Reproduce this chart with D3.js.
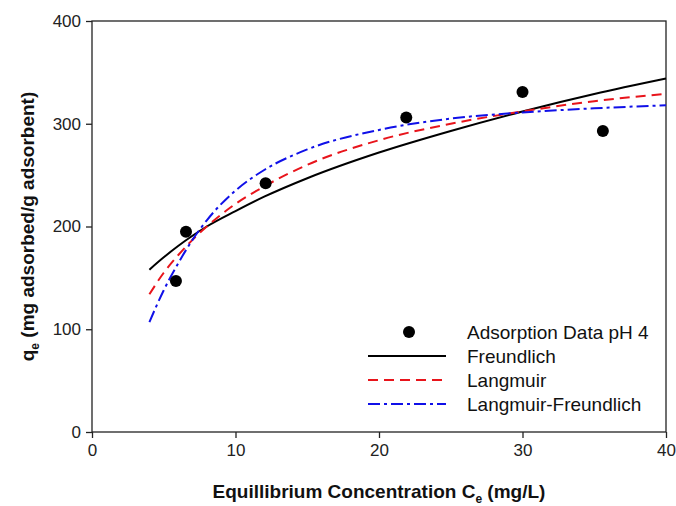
<!DOCTYPE html>
<html>
<head>
<meta charset="utf-8">
<script src="https://cdn.jsdelivr.net/npm/d3@7"></script>
<style>
  body { margin: 0; background: #fff; }
  svg { font-family: Arial, 'Liberation Sans', sans-serif; }
</style>
</head>
<body>
<svg id="chart" width="676" height="506"></svg>
<script>
// measured adsorption data (Ce mg/L, qe mg/g)
const dataCe = [5.85, 6.55, 12.1, 21.9, 30.0, 35.6];
const dataQe = [147, 195, 242, 306, 331, 293];

// fitted curves
const curveCe = [4, 5, 6, 7, 8, 10, 12, 15, 20, 25, 30, 35, 40];
const freundlich = [158, 170, 181, 191, 200, 215, 229, 247, 272, 293, 312, 329, 344];
const langmuir = [134, 155, 172, 187, 200, 222, 239, 260, 284, 300, 312, 322, 329];
const langmuirFreundlich = [107, 138, 164, 187, 206, 235, 255, 275, 294, 305, 311, 315, 318];

const xTicks = [0, 10, 20, 30, 40];
const yTicks = [0, 100, 200, 300, 400];

const legendLabels = ['Adsorption Data pH 4', 'Freundlich', 'Langmuir', 'Langmuir-Freundlich'];

document.addEventListener('DOMContentLoaded', () => {
  const svg = d3.select('#chart');
  const margin = { left: 92, right: 10, top: 21, bottom: 74 };
  const width = 676 - margin.left - margin.right;
  const height = 506 - margin.top - margin.bottom;

  const x = d3.scaleLinear().domain([0, 40]).range([0, width]);
  const y = d3.scaleLinear().domain([0, 400]).range([height, 0]);

  const g = svg.append('g')
    .attr('transform', `translate(${margin.left},${margin.top})`);

  // frame
  g.append('rect')
    .attr('width', width)
    .attr('height', height)
    .attr('fill', 'none')
    .attr('stroke', '#222')
    .attr('stroke-width', 1.3);

  const xAxis = g.append('g')
    .attr('transform', `translate(0,${height})`)
    .call(d3.axisBottom(x).tickValues(xTicks).tickSize(6).tickPadding(6));
  const yAxis = g.append('g')
    .call(d3.axisLeft(y).tickValues(yTicks).tickSize(6).tickPadding(5));
  for (const ax of [xAxis, yAxis]) {
    ax.select('.domain').remove();
    ax.selectAll('line').attr('stroke', '#222').attr('stroke-width', 1.3);
    ax.selectAll('text')
      .attr('font-family', 'Arial, Liberation Sans, sans-serif')
      .attr('font-size', 17)
      .attr('fill', '#222');
  }

  // fitted curves
  const series = [
    { values: freundlich, color: '#000', dash: null },
    { values: langmuir, color: '#e8141b', dash: '10,6' },
    { values: langmuirFreundlich, color: '#1010e8', dash: '12,4,3,4' }
  ];
  const line = d3.line()
    .x(d => x(d[0]))
    .y(d => y(d[1]))
    .curve(d3.curveMonotoneX);
  for (const s of series) {
    g.append('path')
      .datum(curveCe.map((c, i) => [c, s.values[i]]))
      .attr('d', line)
      .attr('fill', 'none')
      .attr('stroke', s.color)
      .attr('stroke-width', 2)
      .attr('stroke-dasharray', s.dash);
  }

  // data points
  g.selectAll('circle.pt')
    .data(dataCe.map((c, i) => [c, dataQe[i]]))
    .enter().append('circle')
      .attr('class', 'pt')
      .attr('cx', d => x(d[0]))
      .attr('cy', d => y(d[1]))
      .attr('r', 6)
      .attr('fill', '#000');

  // legend
  const legend = svg.append('g').attr('transform', 'translate(368,332)');
  const rowH = 24;
  legendLabels.forEach((label, i) => {
    const row = legend.append('g').attr('transform', `translate(0,${i * rowH})`);
    if (i == 0) {
      row.append('circle').attr('cx', 41).attr('cy', 0).attr('r', 6).attr('fill', '#000');
    } else {
      const s = series[i - 1];
      row.append('line')
        .attr('x1', 0).attr('x2', 78)
        .attr('y1', 0).attr('y2', 0)
        .attr('stroke', s.color)
        .attr('stroke-width', 2)
        .attr('stroke-dasharray', s.dash);
    }
    row.append('text')
      .attr('x', 99)
      .attr('y', 7)
      .attr('font-size', 19)
      .attr('fill', '#111')
      .text(label);
  });

  // axis titles
  const xTitle = svg.append('text')
    .attr('x', margin.left + width / 2)
    .attr('y', 498)
    .attr('text-anchor', 'middle')
    .attr('font-size', 19)
    .attr('font-weight', 'bold')
    .attr('fill', '#111');
  xTitle.append('tspan').text('Equillibrium Concentration C');
  xTitle.append('tspan').attr('font-size', 12).attr('dy', 5).text('e');
  xTitle.append('tspan').attr('dy', -5).text(' (mg/L)');

  const yTitle = svg.append('text')
    .attr('transform', `translate(34,${margin.top + height / 2}) rotate(-90)`)
    .attr('text-anchor', 'middle')
    .attr('font-size', 19)
    .attr('font-weight', 'bold')
    .attr('fill', '#111');
  yTitle.append('tspan').text('q');
  yTitle.append('tspan').attr('font-size', 12).attr('dy', 5).text('e');
  yTitle.append('tspan').attr('dy', -5).text(' (mg adsorbed/g adsorbent)');
});
</script>
</body>
</html>
